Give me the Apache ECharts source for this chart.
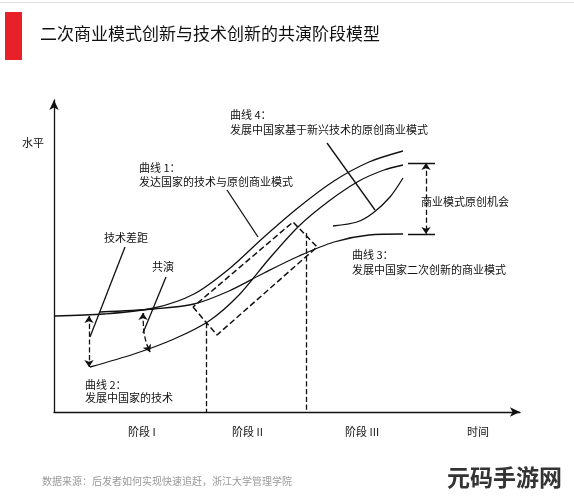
<!DOCTYPE html>
<html><head><meta charset="utf-8">
<script src="https://cdn.jsdelivr.net/npm/echarts@6/dist/echarts.min.js"></script>
<style>html,body{margin:0;background:#fff}#c{width:574px;height:500px}</style>
</head><body><div id="c"></div>
<script>
// data in pixel-like units: x = time, y = level
const curve1 = [[1,96],[50,98],[100,104],[140,118],[175,143],[210,175],[245,205],[280,231],[315,250],[349,261]];
const curve3 = [[46,100],[100,103],[140,108],[175,121],[210,139],[245,156],[280,170],[315,177],[349,178]];
const curve2 = [[36,45],[80,58],[120,73],[155,91],[185,117],[215,153],[245,186],[275,211],[305,231],[330,242],[349,247]];
const curve4 = [[279,186],[303,190],[319,199],[336,215],[349,234]];
const rect = [[139,105],[163,77],[263,165],[239,190],[139,105]];
const stageLines = [[[152,89],[152,0]],[[252,179],[252,0]]];
const leaders = [[[173,222],[204,175]],[[273,269],[321,202]],[[71,165],[36,75]],[[112,135],[89,79]]];
const gapArrow = [[35,96],[35,45]];
const coevo = [[89,99],[90,80],[96,60]];
const oppArrow = [[372,249],[372,178]];
const oppTicks = [[[354,249],[381,249]],[[354,178],[381,178]]];
const stageLabels = ['阶段 I','阶段 II','阶段 III'];

const ln = (d)=>({type:'line',data:d,smooth:0.3,symbol:'none',lineStyle:{color:'#111',width:1.3},silent:true});
const seg = (coords,dashed,sym)=>({type:'lines',coordinateSystem:'cartesian2d',silent:true,
  symbol:sym||['none','none'],symbolSize:7,
  lineStyle:{color:'#111',width:1.3,type:dashed?'dashed':'solid',opacity:1},
  data:coords.map(c=>({coords:c}))});
const txt=(x,y,t,fs,extra)=>({type:'text',left:x,top:y,style:Object.assign({text:t,font:(fs||11)+'px "Noto Sans CJK SC"',fill:'#111'},extra||{})});
const chart = echarts.init(document.getElementById('c'));
chart.setOption({
  animation:false,
  grid:{left:54,right:54,top:100,bottom:88},
  xAxis:{type:'value',min:0,max:466,axisLine:{symbol:['none','arrow'],symbolSize:[7,10],lineStyle:{color:'#111',width:1.3}},axisTick:{show:false},axisLabel:{show:false},splitLine:{show:false}},
  yAxis:{type:'value',min:0,max:312,axisLine:{show:true,symbol:['none','arrow'],symbolSize:[7,10],lineStyle:{color:'#111',width:1.3}},axisTick:{show:false},axisLabel:{show:false},splitLine:{show:false}},
  series:[ln(curve1),ln(curve3),ln(curve2),ln(curve4),
    {type:'line',data:rect,symbol:'none',lineStyle:{color:'#111',width:1.5,type:'dashed'},silent:true},
    seg(stageLines,true),seg(leaders,false),
    seg([gapArrow],true,['arrow','arrow']),
    {type:'line',data:coevo,smooth:true,symbol:'none',lineStyle:{color:'#111',width:1.3,type:'dashed'}},
    seg([[[95,62],[96,60]]],false,['none','arrow']),
    seg([[[89,97],[89,99]]],false,['none','arrow']),
    seg([oppArrow],true,['arrow','arrow']),seg(oppTicks,false)
  ],
  graphic:[
    {type:'rect',left:5,top:12,shape:{width:17,height:48},style:{fill:'#e8202a'}},
    {type:'rect',left:0,top:2,shape:{width:574,height:1},style:{fill:'#ddd'}},
    txt(40,25,'二次商业模式创新与技术创新的共演阶段模型',17,{font:'17px "Noto Sans CJK SC"'}),
    txt(22,137,'水平'),
    txt(230,109,'曲线 4：'),txt(230,124,'发展中国家基于新兴技术的原创商业模式'),
    txt(139,162,'曲线 1：'),txt(139,176,'发达国家的技术与原创商业模式'),
    txt(104,232,'技术差距'),txt(152,261,'共演'),
    txt(421,196,'商业模式原创机会'),
    txt(352,249,'曲线 3：'),txt(352,264,'发展中国家二次创新的商业模式'),
    txt(85,379,'曲线 2：'),txt(85,392,'发展中国家的技术'),
    txt(128,426,stageLabels[0]),txt(232,426,stageLabels[1]),txt(345,426,stageLabels[2]),
    txt(467,426,'时间'),
    txt(42,476,'数据来源：后发者如何实现快速追赶，浙江大学管理学院',10,{fill:'#999'}),
    txt(447,466,'元码手游网',23,{font:'bold 23px "Noto Sans CJK SC"',fill:'#333'})
  ]
});
</script></body></html>
